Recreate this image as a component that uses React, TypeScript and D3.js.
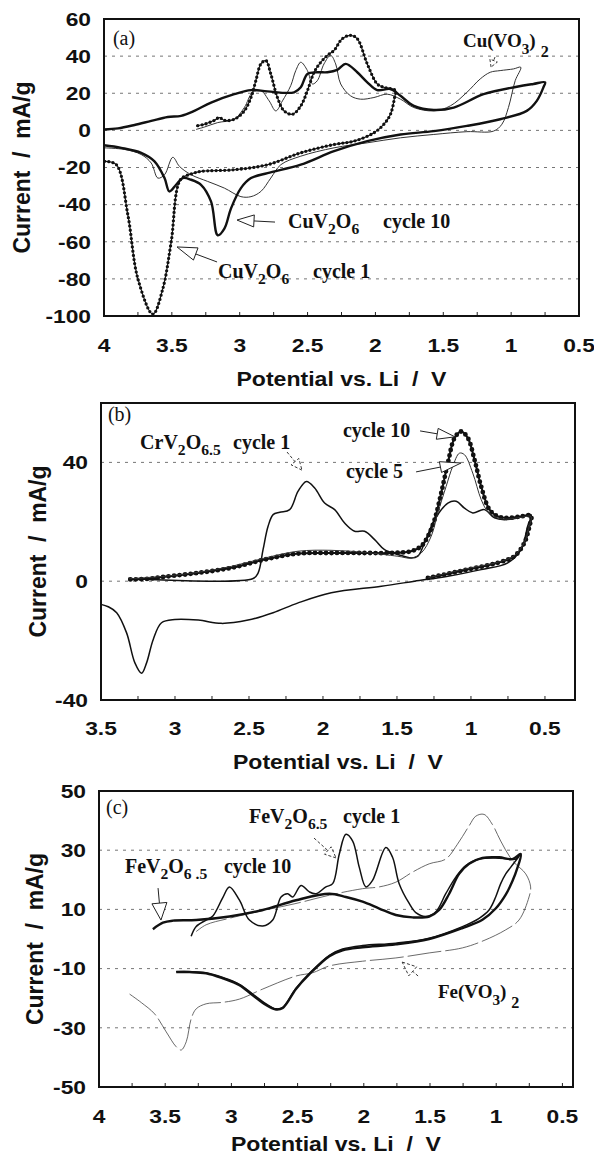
import React from 'react';
import * as d3 from 'd3';

type Pt = [number, number];

// ---------- panel (a): CuV2O6 cycles 1 / 10 and Cu(VO3)2 ----------
const aCycle1: Pt[] = [
  [3.995, -16.7], [3.909, -18.5], [3.824, -45.6], [3.75, -80], [3.64, -99], [3.567, -85.4],
  [3.505, -60.1], [3.437, -26.6], [3.358, -23.5], [3.285, -22.1], [3.04, -21.2], [2.795, -18.5],
  [2.55, -12.1], [2.305, -7.6], [2.158, -5.8], [2.011, -1.3], [1.938, 3.3], [1.889, 8.7],
  [1.859, 17.7], [1.852, 21.4],
  [1.938, 23.2], [1.987, 25.0], [2.06, 35.8], [2.134, 49.4], [2.183, 51.2], [2.244, 49.4],
  [2.305, 43.1], [2.354, 40.4], [2.403, 36.7], [2.452, 31.3], [2.501, 21.4], [2.55, 13.2],
  [2.611, 8.7], [2.673, 10.5], [2.722, 17.7], [2.771, 30.4], [2.807, 37.6], [2.844, 35.8],
  [2.881, 26.8], [2.917, 17.7], [2.966, 10.5], [3.04, 6.0], [3.113, 5.4], [3.15, 6.9],
  [3.187, 5.4], [3.26, 3.3], [3.322, 2.4],
];
const aCycle10: Pt[] = [
  [4.0, -8.0], [3.873, -9.4], [3.726, -12.1], [3.628, -16.7], [3.554, -25.7], [3.518, -32.9],
  [3.469, -29.3], [3.42, -25.7], [3.358, -26.6], [3.285, -29.3], [3.211, -38.4], [3.162, -56.5],
  [3.113, -52.9], [3.064, -42], [2.991, -31.1], [2.917, -25.7], [2.795, -23], [2.55, -18.5],
  [2.305, -11.2], [2.06, -5.8], [1.815, -2.2], [1.57, -0.4], [1.326, 2.4], [1.081, 6.0],
  [0.885, 10.5], [0.811, 15.9], [0.762, 23.2], [0.75, 25.9],
  [0.836, 25.0], [0.958, 23.5], [1.203, 19.5], [1.423, 12.3], [1.57, 11.0], [1.717, 13.2],
  [1.815, 18.6], [1.889, 22.3], [1.987, 21.7], [2.06, 25.9], [2.134, 31.3], [2.219, 35.8],
  [2.281, 32.6], [2.354, 31.3], [2.428, 31.3], [2.501, 30.4], [2.55, 23.2], [2.599, 20.5],
  [2.795, 21.0], [2.917, 21.7], [3.04, 19.5], [3.211, 15.0], [3.334, 10.5], [3.432, 7.8],
  [3.53, 7.2], [3.652, 5.1], [3.775, 2.9], [3.897, 1.1], [4.0, 0.5],
];
const aCuVO3: Pt[] = [
  [4.0, -9.4], [3.848, -10.3], [3.726, -13.0], [3.652, -17.6], [3.603, -25.7], [3.554, -23.9],
  [3.493, -14.5], [3.444, -19.4], [3.358, -23.9], [3.236, -27.5], [3.113, -31.1], [2.991, -35.7],
  [2.917, -35.7], [2.844, -32.9], [2.771, -25.7], [2.697, -18.5], [2.55, -13.9], [2.305, -9.4],
  [2.06, -6.7], [1.815, -4.0], [1.57, -2.2], [1.326, -0.7], [1.13, -0.4], [1.068, 3.3],
  [1.02, 12.3], [0.97, 26.8], [0.929, 34.0],
  [0.983, 33.1], [1.081, 32.2], [1.154, 31.3], [1.228, 27.7], [1.326, 20.5], [1.448, 13.2],
  [1.57, 10.5], [1.717, 12.3], [1.815, 16.8], [1.913, 19.5], [2.011, 17.7], [2.109, 16.8],
  [2.183, 18.6], [2.256, 25.0], [2.293, 35.8], [2.33, 40.4], [2.379, 35.8], [2.428, 26.8],
  [2.464, 25.0], [2.501, 32.2], [2.55, 36.7], [2.587, 32.2], [2.624, 24.1], [2.685, 15.9],
  [2.734, 10.5], [2.783, 15.9], [2.844, 21.4], [2.905, 20.5], [2.966, 12.3], [3.04, 6.0],
  [3.162, 4.2], [3.26, 1.8], [3.322, 0.5],
];
const aXTicks = [4, 3.5, 3, 2.5, 2, 1.5, 1, 0.5];
const aYTicks = [60, 40, 20, 0, -20, -40, -60, -80, -100];
const aGrid = [40, 20, 0, -20, -40, -60, -80];

// ---------- panel (b): CrV2O6.5 cycles 1 / 5 / 10 ----------
const bCycle1: Pt[] = [
  [3.316, 0.9], [2.472, 0.9], [2.438, 2.8], [2.405, 10.6], [2.371, 18.5], [2.337, 22.4],
  [2.292, 23.2], [2.225, 24.1], [2.168, 30.3], [2.112, 33.6], [2.056, 31.4], [1.989, 26.3],
  [1.921, 24.1], [1.854, 19.6], [1.786, 16.8], [1.719, 16.8], [1.651, 14.0], [1.584, 10.6],
  [1.494, 9.0], [1.404, 7.8], [1.359, 8.4], [1.314, 12.9], [1.246, 20.7], [1.156, 26.3],
  [1.1, 26.9], [1.044, 24.6], [0.988, 23.0], [0.909, 24.1], [0.841, 21.3], [0.774, 20.7],
  [0.684, 21.3], [0.594, 22.4],
  [0.617, 18.5], [0.662, 10.6], [0.751, 6.2], [0.931, 3.9], [1.156, 1.7], [1.381, 0],
  [1.606, -1.7], [1.944, -3.9], [2.168, -7.3], [2.337, -10.6], [2.506, -13.1], [2.686, -14.2],
  [2.843, -13.1], [3.001, -12.9], [3.091, -14.0], [3.147, -19.6], [3.192, -27.5], [3.226, -31.0],
  [3.271, -27.5], [3.327, -17.4], [3.394, -10.6], [3.451, -8.6], [3.5, -7.8],
];
const bCycle5: Pt[] = [
  [1.291, 1.1], [1.044, 4.1], [0.819, 6.4], [0.707, 8.6], [0.639, 13.1], [0.605, 18.7], [0.594, 21.8],
  [0.662, 21.5], [0.751, 20.9], [0.819, 21.3], [0.887, 23.5], [0.931, 27.5], [0.988, 36.4],
  [1.044, 42.6], [1.078, 43.1], [1.123, 38.7], [1.168, 31.9], [1.224, 23.0], [1.269, 15.1],
  [1.336, 9.5], [1.404, 7.8], [1.494, 8.4], [1.719, 9.7], [1.944, 10.4], [2.168, 10.1],
  [2.393, 7.8], [2.618, 5.0], [2.843, 3.0], [3.068, 1.7], [3.316, 0.8],
];
const bCycle10: Pt[] = [
  [1.291, 1.1], [1.044, 3.7], [0.819, 6.2], [0.707, 8.4], [0.639, 12.9], [0.605, 18.5], [0.594, 22.1],
  [0.662, 21.8], [0.751, 21.3], [0.819, 21.8], [0.875, 24.1], [0.931, 31.9], [0.976, 40.9],
  [1.021, 48.2], [1.066, 50.4], [1.111, 48.2], [1.156, 39.8], [1.201, 29.7], [1.246, 20.7],
  [1.291, 15.1], [1.336, 11.8], [1.404, 10.1], [1.539, 9.5], [1.719, 9.5], [1.944, 9.5],
  [2.168, 9.3], [2.393, 7.3], [2.618, 4.5], [2.843, 2.8], [3.068, 1.5], [3.181, 0.8], [3.316, 0.6],
];
const bXTicks = [3.5, 3, 2.5, 2, 1.5, 1, 0.5];
const bYTicks = [40, 0, -40];
const bGrid = [40, 0];

// ---------- panel (c): FeV2O6.5 cycles 1 / 10 and Fe(VO3)2 ----------
const cCycle1: Pt[] = [
  [3.304, 0.9], [3.266, 4.2], [3.191, 6.4], [3.14, 7.8], [3.065, 14.0], [3.015, 17.6],
  [2.939, 13.1], [2.864, 6.4], [2.763, 4.4], [2.688, 6.4], [2.625, 14.2], [2.575, 15.3],
  [2.537, 14.2], [2.474, 18.1], [2.411, 15.9], [2.361, 15.3], [2.286, 17.6], [2.235, 18.7],
  [2.185, 28.7], [2.135, 35.4], [2.084, 33.1], [2.034, 24.2], [1.984, 17.6], [1.934, 19.8],
  [1.833, 30.9], [1.783, 27.6], [1.733, 18.7], [1.657, 12.0], [1.607, 8.9], [1.531, 7.6],
  [1.456, 9.2], [1.381, 15.3], [1.305, 20.9], [1.23, 24.8], [1.129, 27.0], [1.004, 27.4],
  [0.903, 27.0], [0.853, 27.0], [0.815, 28.7],
  [0.891, 24.2], [0.928, 22.0], [0.966, 18.7], [1.004, 14.2], [1.054, 9.8], [1.129, 7.0],
  [1.255, 4.2], [1.506, 0.3], [1.758, -1.4], [2.009, -2.2], [2.16, -3.4], [2.26, -5.5],
  [2.411, -11.6], [2.512, -16.6], [2.612, -23.1], [2.663, -23.6], [2.738, -21.9], [2.839, -18.6],
  [2.939, -15.3], [3.065, -13.0], [3.191, -11.4], [3.316, -11.0], [3.417, -11.0],
];
const cCycle10: Pt[] = [
  [3.593, 3.3], [3.517, 5.5], [3.442, 6.2], [3.266, 6.4], [3.015, 7.6], [2.763, 9.8],
  [2.512, 13.1], [2.26, 15.3], [2.135, 14.2], [2.009, 12.6], [1.883, 10.3], [1.758, 8.1],
  [1.632, 7.3], [1.506, 7.6], [1.431, 9.8], [1.355, 15.3], [1.28, 22.0], [1.205, 25.4],
  [1.104, 27.4], [0.978, 27.6], [0.878, 27.0], [0.815, 28.7],
  [0.84, 24.0], [0.878, 19.5], [0.928, 15.0], [1.004, 10.3], [1.104, 6.5], [1.255, 3.7],
  [1.506, 0], [1.758, -1.8], [2.009, -2.8], [2.16, -3.8], [2.26, -5.8], [2.411, -11.9],
  [2.512, -16.9], [2.612, -23.3], [2.663, -23.8], [2.738, -22.3], [2.839, -19.0], [2.939, -15.6],
  [3.065, -13.3], [3.191, -11.6], [3.316, -11.2], [3.417, -11.2],
];
const cFeVO3: Pt[] = [
  [3.769, -18.6], [3.68, -21.5], [3.58, -25.3], [3.492, -31.4], [3.417, -36.4], [3.379, -37.5],
  [3.341, -34.7], [3.304, -27.0], [3.266, -23.6], [3.191, -21.9], [3.065, -21.4], [2.939, -20.3],
  [2.763, -16.9], [2.512, -12.5], [2.386, -11.4], [2.26, -9.1], [2.009, -7.5], [1.758, -6.4],
  [1.506, -4.7], [1.255, -3.0], [1.092, -0.5], [0.928, 3.1], [0.828, 6.4], [0.752, 14.2],
  [0.74, 17.6], [0.777, 22.0], [0.878, 26.5], [0.966, 33.1], [1.029, 38.7], [1.092, 42.1],
  [1.154, 41.5], [1.205, 38.2], [1.293, 32.0], [1.381, 27.0], [1.506, 25.4], [1.632, 22.6],
  [1.758, 19.2], [1.883, 17.6], [2.009, 17.0], [2.26, 14.8], [2.512, 12.0], [2.763, 9.6],
  [3.015, 7.0], [3.191, 4.8], [3.266, 2.5],
];
const cXTicks = [4, 3.5, 3, 2.5, 2, 1.5, 1, 0.5];
const cYTicks = [50, 30, 10, -10, -30, -50];
const cGrid = [30, 10, -10, -30];

const xTitle = 'Potential vs. Li  /  V';
const yTitle = 'Current  /  mA/g';

const sans = "'Liberation Sans', Arial, Helvetica, sans-serif";
const serif = "'Liberation Serif', 'Times New Roman', Times, serif";

type Kind = 'thick' | 'medium' | 'thin' | 'faint' | 'dots' | 'dotsHeavy';
type Series = { data: Pt[]; kind: Kind };
type Scales = { x: d3.ScaleLinear<number, number>; y: d3.ScaleLinear<number, number> };
type PanelSpec = {
  left: number; right: number; top: number; bottom: number;
  xDomain: [number, number]; yDomain: [number, number];
  xTicks: number[]; yTicks: number[]; grid: number[];
  tickLabelY: number; titleY: number; yTitleX: number;
  series: Series[];
  notes: (s: Scales) => React.ReactNode;
};

function Arrow({ s, from, to, head, half, dashed }: { s: Scales; from: Pt; to: Pt; head: number; half: number; dashed?: boolean }) {
  const x1 = s.x(from[0]), y1 = s.y(from[1]);
  const x2 = s.x(to[0]), y2 = s.y(to[1]);
  const L = Math.hypot(x2 - x1, y2 - y1) || 1;
  const ux = (x2 - x1) / L, uy = (y2 - y1) / L;
  const bx = x2 - ux * head, by = y2 - uy * head;
  const px = -uy * half, py = ux * half;
  return (
    <g stroke="#222" strokeWidth={dashed ? 0.9 : 1} strokeDasharray={dashed ? '3,2' : undefined} fill="#fff">
      {head < L && <line x1={x1} y1={y1} x2={bx} y2={by} />}
      <polygon points={`${x2},${y2} ${bx + px},${by + py} ${bx - px},${by - py}`} />
    </g>
  );
}

// formula like CuV2O6 : main text with two subscripts
function Formula({ s, at, a, sub1, b, sub2, size = 20 }: { s: Scales; at: Pt; a: string; sub1: string; b: string; sub2: string; size?: number }) {
  return (
    <text x={s.x(at[0])} y={s.y(at[1])} fontFamily={serif} fontWeight="bold" fontSize={size} fill="#111" style={{ whiteSpace: 'pre' }}>
      {a}
      <tspan dy={6} fontSize={size * 0.78}>{sub1}</tspan>
      <tspan dy={-6}>{b}</tspan>
      <tspan dy={6} fontSize={size * 0.78}>{sub2}</tspan>
    </text>
  );
}

// formula like Cu(VO3)2 with the trailing 2 set low
function Meta({ s, at, a, size = 19 }: { s: Scales; at: Pt; a: string; size?: number }) {
  return (
    <text x={s.x(at[0])} y={s.y(at[1])} fontFamily={serif} fontWeight="bold" fontSize={size} fill="#111">
      {a}
      <tspan dy={7} fontSize={size * 0.8}>3</tspan>
      <tspan dy={-7}>)</tspan>
      <tspan dx={5} dy={10} fontSize={size * 0.85}>2</tspan>
    </text>
  );
}

function Word({ s, at, text, size = 20, bold = true }: { s: Scales; at: Pt; text: string; size?: number; bold?: boolean }) {
  return (
    <text x={s.x(at[0])} y={s.y(at[1])} fontFamily={serif} fontWeight={bold ? 'bold' : 'normal'} fontSize={size} fill="#111">
      {text}
    </text>
  );
}

const panels: PanelSpec[] = [
  {
    left: 104, right: 579, top: 19, bottom: 316,
    xDomain: [4, 0.5], yDomain: [-100, 60],
    xTicks: aXTicks, yTicks: aYTicks, grid: aGrid,
    tickLabelY: 352, titleY: 386, yTitleX: 24,
    series: [
      { data: aCuVO3, kind: 'thin' },
      { data: aCycle10, kind: 'thick' },
      { data: aCycle1, kind: 'dots' },
    ],
    notes: (s) => (
      <g>
        <Word s={s} at={[3.934, 45.9]} text="(a)" size={20} bold={false} />
        <Meta s={s} at={[1.355, 44.9]} a="Cu(VO" />
        <Arrow s={s} from={[1.119, 39.5]} to={[1.148, 34.1]} head={7} half={4} dashed />
        <Formula s={s} at={[2.644, -52.6]} a="CuV" sub1="2" b="O" sub2="6" />
        <Word s={s} at={[1.944, -52.6]} text="cycle 10" />
        <Arrow s={s} from={[2.74, -49.4]} to={[3.02, -48.3]} head={17} half={6} />
        <Formula s={s} at={[3.16, -79.5]} a="CuV" sub1="2" b="O" sub2="6" />
        <Word s={s} at={[2.46, -79.5]} text="cycle 1" />
        <Arrow s={s} from={[3.167, -70.9]} to={[3.462, -62.8]} head={20} half={6.5} />
      </g>
    ),
  },
  {
    left: 101, right: 575, top: 403, bottom: 700,
    xDomain: [3.5, 0.297], yDomain: [-40, 60],
    xTicks: bXTicks, yTicks: bYTicks, grid: bGrid,
    tickLabelY: 735, titleY: 769, yTitleX: 40,
    series: [
      { data: bCycle1, kind: 'medium' },
      { data: bCycle10, kind: 'dotsHeavy' },
      { data: bCycle5, kind: 'thin' },
    ],
    notes: (s) => (
      <g>
        <Word s={s} at={[3.453, 53.9]} text="(b)" size={20} bold={false} />
        <Formula s={s} at={[3.236, 44.5]} a="CrV" sub1="2" b="O" sub2="6.5" />
        <Word s={s} at={[2.608, 44.5]} text="cycle 1" />
        <Arrow s={s} from={[2.243, 43.5]} to={[2.142, 37.4]} head={11} half={5} dashed />
        <Word s={s} at={[1.865, 48.6]} text="cycle 10" />
        <Arrow s={s} from={[1.344, 50.6]} to={[1.108, 48.6]} head={18} half={5.5} />
        <Word s={s} at={[1.845, 34.7]} text="cycle 5" />
        <Arrow s={s} from={[1.371, 36.8]} to={[1.067, 39.8]} head={21} half={5.5} />
      </g>
    ),
  },
  {
    left: 99, right: 573, top: 791, bottom: 1087,
    xDomain: [4, 0.42], yDomain: [-50, 50],
    xTicks: cXTicks, yTicks: cYTicks, grid: cGrid,
    tickLabelY: 1123, titleY: 1151, yTitleX: 37,
    series: [
      { data: cFeVO3, kind: 'faint' },
      { data: cCycle1, kind: 'medium' },
      { data: cCycle10, kind: 'thick' },
    ],
    notes: (s) => (
      <g>
        <Word s={s} at={[3.947, 42.2]} text="(c)" size={20} bold={false} />
        <Formula s={s} at={[2.867, 39.2]} a="FeV" sub1="2" b="O" sub2="6.5" />
        <Word s={s} at={[2.157, 39.2]} text="cycle 1" />
        <Arrow s={s} from={[2.376, 34.1]} to={[2.21, 27.4]} head={11} half={5} dashed />
        <Formula s={s} at={[3.804, 22.3]} a="FeV" sub1="2" b="O" sub2="6 .5" />
        <Word s={s} at={[3.056, 22.3]} text="cycle 10" />
        <Arrow s={s} from={[3.554, 17.2]} to={[3.532, 6.4]} head={17} half={7.5} />
        <Meta s={s} at={[1.44, -19.9]} a="Fe(VO" />
        <Arrow s={s} from={[1.59, -12.5]} to={[1.71, -7.8]} head={14} half={6} dashed />
      </g>
    ),
  },
];

function Curve({ d, kind }: { d: string; kind: Kind }) {
  switch (kind) {
    case 'thick':
      return <path d={d} fill="none" stroke="#111" strokeWidth={2.4} strokeLinejoin="round" />;
    case 'medium':
      return <path d={d} fill="none" stroke="#111" strokeWidth={1.5} strokeLinejoin="round" />;
    case 'thin':
      return <path d={d} fill="none" stroke="#333" strokeWidth={1} />;
    case 'faint':
      return <path d={d} fill="none" stroke="#444" strokeWidth={0.8} strokeDasharray="34,4" />;
    case 'dots':
      return (
        <g fill="none" stroke="#111">
          <path d={d} strokeWidth={1.1} />
          <path d={d} strokeWidth={3.3} strokeDasharray="0,4.2" strokeLinecap="round" />
        </g>
      );
    case 'dotsHeavy':
      return (
        <g fill="none" stroke="#111">
          <path d={d} strokeWidth={2} />
          <path d={d} strokeWidth={4.8} strokeDasharray="0,5.5" strokeLinecap="round" />
        </g>
      );
  }
}

function Panel({ p }: { p: PanelSpec }) {
  const x = d3.scaleLinear().domain(p.xDomain).range([p.left, p.right]);
  const y = d3.scaleLinear().domain(p.yDomain).range([p.bottom, p.top]);
  const line = d3.line<Pt>().x(d => x(d[0])).y(d => y(d[1])).curve(d3.curveCatmullRom.alpha(0.5));
  const lo = Math.min(...p.xDomain), hi = Math.max(...p.xDomain);
  const minor = d3.range(0.25, 4.01, 0.25).filter(v => v > lo + 0.01 && v < hi - 0.01);
  const cx = (p.left + p.right) / 2;
  const cy = (p.top + p.bottom) / 2;
  return (
    <g>
      {p.grid.map(v => (
        <line key={v} x1={p.left} x2={p.right} y1={y(v)} y2={y(v)} stroke="#666" strokeWidth={0.9} strokeDasharray="3,5" />
      ))}
      {minor.map(v => (
        <line key={v} x1={x(v)} x2={x(v)} y1={p.bottom} y2={p.bottom - 4} stroke="#222" strokeWidth={1} />
      ))}
      {p.series.map((s, i) => <Curve key={i} d={line(s.data) || ''} kind={s.kind} />)}
      <rect x={p.left} y={p.top} width={p.right - p.left} height={p.bottom - p.top} fill="none" stroke="#111" strokeWidth={2} />
      {p.notes({ x, y })}
      <g fontFamily={sans} fontWeight="bold" fontSize={19} fill="#111">
        {p.yTicks.map(v => (
          <text key={v} transform={`translate(${p.left - 13},${y(v) + 6.8}) scale(1.2,1)`} textAnchor="end">{v}</text>
        ))}
        {p.xTicks.map(v => (
          <text key={v} transform={`translate(${x(v)},${p.tickLabelY}) scale(1.2,1)`} textAnchor="middle">{v}</text>
        ))}
      </g>
      <text x={cx} y={p.titleY} textAnchor="middle" fontFamily={sans} fontWeight="bold" fontSize={21}
        textLength={210} lengthAdjust="spacingAndGlyphs" style={{ whiteSpace: 'pre' }} fill="#111">{xTitle}</text>
      <text transform={`translate(${p.yTitleX},${cy}) scale(1.15,1) rotate(-90)`} textAnchor="middle" dominantBaseline="middle"
        fontFamily={sans} fontWeight="bold" fontSize={21} textLength={172} lengthAdjust="spacingAndGlyphs"
        style={{ whiteSpace: 'pre' }} fill="#111">{yTitle}</text>
    </g>
  );
}

export default function App() {
  return (
    <svg width={594} height={1157} viewBox="0 0 594 1157"
      style={{ position: 'absolute', left: 0, top: 0, background: '#fff', display: 'block' }}>
      <rect width={594} height={1157} fill="#fff" />
      {panels.map((p, i) => <Panel key={i} p={p} />)}
    </svg>
  );
}
